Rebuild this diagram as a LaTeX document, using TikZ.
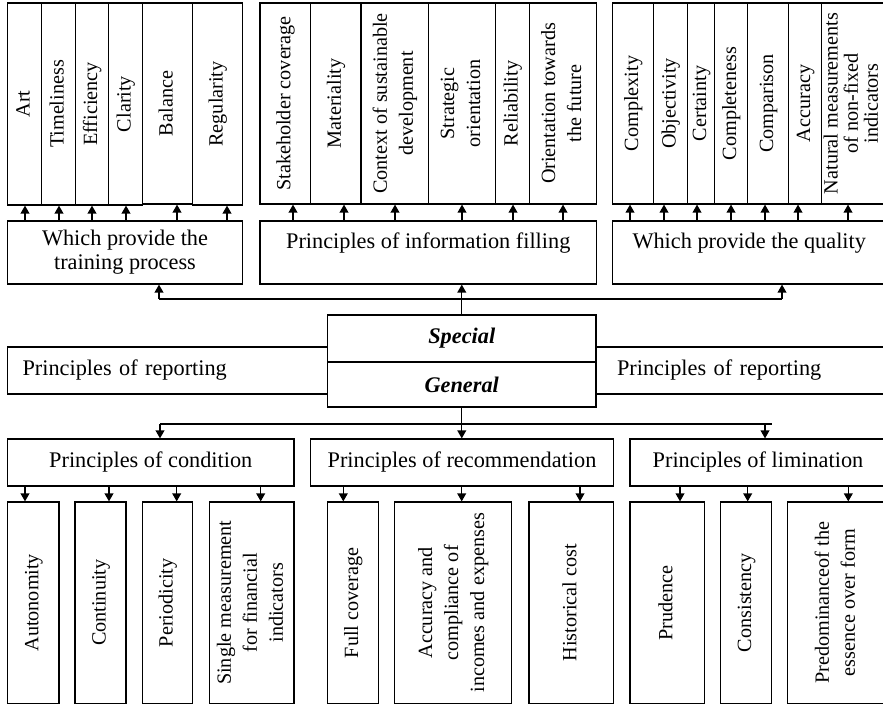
\documentclass[tikz,border=0pt]{standalone}
\usepackage{fontspec}
\setmainfont{Liberation Serif}
\usepackage{graphicx}
\usetikzlibrary{arrows.meta}
\newcommand\vt[2][13]{\rotatebox{90}{\fontsize{10.1}{#1}\selectfont\begin{tabular}{@{}c@{}}#2\end{tabular}}}
\newcommand\bx[7][]{\node[box,minimum width={(#5-#3)*0.5pt},minimum height={(#6-#4)*0.5pt},#1] (#2) at ({(#3+#5)/2},{(#4+#6)/2}) {#7};}
\begin{document}
\begin{tikzpicture}[x=0.5pt,y=-0.5pt,
  box/.style={draw,line width=0.6pt,inner sep=0pt,align=center,font=\fontsize{11.15}{12}\selectfont},
  arr/.style={line width=0.6pt,-{Triangle[length=4pt,width=4.4pt]}},
  ln/.style={line width=0.6pt}]
\useasboundingbox (0,0) rectangle (883,705);
\clip (0,0) rectangle (883,705);
% top row, left group
\bx{art}{7.5}{3}{41.5}{205}{\vt{Art}}
\bx{time}{41.5}{3}{75.5}{205}{\vt{Timeliness}}
\bx{eff}{75.5}{3}{108.5}{205}{\vt{Efficiency}}
\bx{clar}{108.5}{3}{142.5}{205}{\vt{Clarity}}
\bx{bal}{142.5}{3}{192.5}{204}{\vt{Balance}}
\bx{reg}{192.5}{3}{242.5}{205}{\vt{Regularity}}
% top row, middle group
\bx{stake}{260}{3}{310.5}{204}{\vt{Stakeholder coverage}}
\bx{mat}{310.5}{3}{361}{204}{\vt{Materiality}}
\bx{ctx}{361}{3}{428.5}{204}{\vt{Context of sustainable\\development}}
\bx{strat}{428.5}{3}{495.5}{204}{\vt{Strategic\\orientation}}
\bx{rel}{495.5}{3}{529.5}{204}{\vt{Reliability}}
\bx{fut}{529.5}{3}{596.5}{204}{\vt{Orientation towards\\the future}}
% top row, right group
\bx{cplx}{612.5}{3}{653.5}{204}{\vt{Complexity}}
\bx{obj}{653.5}{3}{687.5}{204}{\vt{Objectivity}}
\bx{cert}{687.5}{3}{714.5}{204}{\vt{Certainty}}
\bx{compl}{714.5}{3}{747.5}{204}{\vt{Completeness}}
\bx{cmp}{747.5}{3}{788.5}{204}{\vt{Comparison}}
\bx{acc}{788.5}{3}{821.5}{204}{\vt{Accuracy}}
\bx{nat}{821.5}{3}{886}{204}{\vt[10]{Natural measurements\\of non-fixed\\indicators}}
% second row headers
\bx{hL}{7.5}{221}{242.5}{284}{Which provide the\\training process}
\bx{hM}{260}{221}{596.5}{284}{Principles of information filling\\\mbox{}}
\bx{hR}{612.5}{221}{886}{284}{Which provide the quality\\\mbox{}}
% arrows up into top row
\foreach \x/\t in {25/art,59/time,92/eff,126/clar,177/bal,227/reg}
  \draw[arr] (hL.north -| \x,0) -- (\t.south -| \x,0);
\foreach \x/\t in {293/stake,344/mat,395/ctx,462/strat,513/rel,563/fut}
  \draw[arr] (hM.north -| \x,0) -- (\t.south -| \x,0);
\foreach \x/\t in {630/cplx,664/obj,697/cert,731/compl,765/cmp,798/acc,848/nat}
  \draw[arr] (hR.north -| \x,0) -- (\t.south -| \x,0);
% reporting boxes and central box
\bx[align=left,text width=145pt,inner xsep=7.25pt]{repL}{7.5}{347}{327.5}{394}{Principles of reporting}
\bx[align=left,text width=124pt,inner xsep=10.5pt]{repR}{596}{347}{886}{394}{Principles of reporting}
\bx{special}{327.5}{315}{596}{362}{\textbf{\textit{Special}}}
\bx{general}{327.5}{362}{596}{407}{\textbf{\textit{General}}}
% upper connector
\coordinate (tl) at (159,299);
\coordinate (tr) at (782,299);
\coordinate (tj) at (special.north |- tl);
\draw[ln] (tl) -- (tr);
\draw[ln] (special.north) -- (tj);
\draw[arr] (tl) -- (tl |- hL.south);
\draw[arr] (tj) -- (tj |- hM.south);
\draw[arr] (tr) -- (tr |- hR.south);
% bottom headers
\bx{cond}{7.5}{439}{294}{486}{Principles of condition}
\bx{rec}{310.5}{439}{613.5}{486}{Principles of recommendation}
\bx{lim}{630}{439}{886}{486}{Principles of limination}
% lower connector
\coordinate (bl) at (160,424);
\coordinate (br) at (772,424);
\coordinate (ba) at (765,424);
\draw[ln] (bl) -- (br);
\draw[arr] (general.south) -- (general.south |- rec.north);
\draw[arr] (bl) -- (bl |- cond.north);
\draw[arr] (ba) -- (ba |- lim.north);
% bottom row
\bx{auto}{7.5}{502}{59}{703.5}{\vt{Autonomity}}
\bx{cont}{75}{502}{126}{703.5}{\vt{Continuity}}
\bx{peri}{142.5}{502}{192.5}{703.5}{\vt{Periodicity}}
\bx{single}{209.5}{502}{294}{703.5}{\vt{Single measurement\\for financial\\indicators}}
\bx{full}{327.5}{502}{378.5}{703.5}{\vt{Full coverage}}
\bx{accur}{394.5}{502}{511.5}{703.5}{\vt{Accuracy and\\compliance of\\incomes and expenses}}
\bx{hist}{529}{502}{613.5}{703.5}{\vt{Historical cost}}
\bx{prud}{630}{502}{704.5}{703.5}{\vt{Prudence}}
\bx{cons}{720.5}{502}{771.5}{703.5}{\vt{Consistency}}
\bx{pred}{787.5}{502}{886}{703.5}{\vt{Predominanceof the\\essence over form}}
\foreach \x/\t in {25/auto,109/cont,176.7/peri,260.7/single}
  \draw[arr] (cond.south -| \x,0) -- (\t.north -| \x,0);
\foreach \x/\t in {343.3/full,461.7/accur,580/hist}
  \draw[arr] (rec.south -| \x,0) -- (\t.north -| \x,0);
\foreach \x/\t in {680/prud,747.7/cons,848.3/pred}
  \draw[arr] (lim.south -| \x,0) -- (\t.north -| \x,0);
\end{tikzpicture}
\end{document}
